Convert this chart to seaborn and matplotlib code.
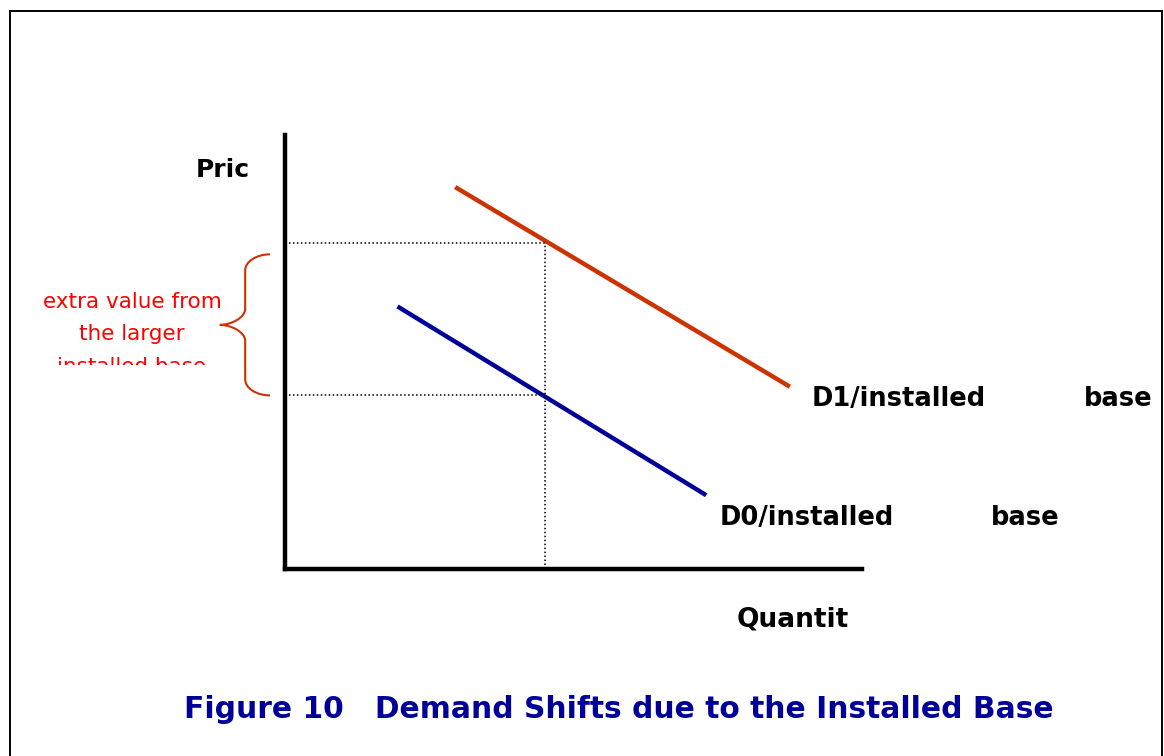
import matplotlib
matplotlib.use("Agg")
import matplotlib.pyplot as plt
import pandas as pd
import seaborn as sns
from matplotlib.patches import PathPatch, Rectangle
from matplotlib.path import Path
from matplotlib.transforms import Bbox, TransformedBbox

# demand curves (arbitrary units, quantity 0-10, price 0-10)
curve = ["D0", "D0", "D1", "D1"]
quantity = [1.95, 7.3, 2.95, 8.75]
price = [6.05, 1.7, 8.8, 4.2]

# equilibrium guides
q_star = 4.5
p1 = 7.5
p0 = 4.0

curve_labels = {"D1": "D1/installed", "D0": "D0/installed"}
tail_label = "base"
brace_lines = ["extra value from", "the larger", "installed base"]
title = "Figure 10   Demand Shifts due to the Installed Base"

RED = "#cc3300"
NAVY = "#000099"

sns.set_style("white")
plt.rcParams["font.family"] = ["DejaVu Sans"]
plt.rcParams["text.color"] = "black"

df = pd.DataFrame({"curve": curve, "quantity": quantity, "price": price})

fig = plt.figure(figsize=(11.64, 7.56), dpi=100)
ax = fig.add_axes([285 / 1164, 1 - 569 / 756, (862 - 285) / 1164, (569 - 135) / 756])

sns.lineplot(data=df, x="quantity", y="price", hue="curve",
             palette={"D0": NAVY, "D1": RED}, linewidth=3.2,
             estimator=None, sort=False, legend=False, ax=ax)
for line in ax.get_lines():
    line.set_solid_capstyle("butt")

ax.set_xlim(0, 10)
ax.set_ylim(0, 10)
ax.set_xticks([])
ax.set_yticks([])
ax.set_xlabel("")
ax.set_ylabel("")
for side in ["top", "right"]:
    ax.spines[side].set_visible(False)
for side in ["left", "bottom"]:
    ax.spines[side].set_linewidth(3.2)
    ax.spines[side].set_color("black")
    ax.spines[side].set_capstyle("projecting")

# dotted guides
dot = dict(color="black", linewidth=1.1, linestyle=(0, (1, 1.6)))
ax.plot([0, q_star], [p1, p1], **dot)
ax.plot([0, q_star], [p0, p0], **dot)
ax.plot([q_star, q_star], [0, p1], **dot)

# curve end labels
ends = df.groupby("curve").last()
offsets = {"D1": (22, -12), "D0": (13, -23)}
tail_x = {"D1": 294, "D0": 285}
for name, row in ends.iterrows():
    dx, dy = offsets[name]
    ax.annotate(curve_labels[name], xy=(row["quantity"], row["price"]),
                xytext=(dx, dy), textcoords="offset pixels",
                ha="left", va="center", fontsize=18.5, fontweight="bold")
    ax.annotate(tail_label, xy=(row["quantity"], row["price"]),
                xytext=(tail_x[name], dy), textcoords="offset pixels",
                ha="left", va="center", fontsize=18.5, fontweight="bold")

# curly brace between the two prices
top = p1 - 0.25
bottom = p0
mid = (top + bottom) / 2
xe, xa, xt = -0.26, -0.69, -1.13
r = 0.37
k = 0.45
verts = [
    (xe, top),
    (xa + (xe - xa) * k, top), (xa, top - r * k), (xa, top - r),
    (xa, mid + r),
    (xa, mid + r * k), (xt + (xa - xt) * k, mid), (xt, mid),
    (xt + (xa - xt) * k, mid), (xa, mid - r * k), (xa, mid - r),
    (xa, bottom + r),
    (xa, bottom + r * k), (xa + (xe - xa) * k, bottom), (xe, bottom),
]
codes = [Path.MOVETO,
         Path.CURVE4, Path.CURVE4, Path.CURVE4,
         Path.LINETO,
         Path.CURVE4, Path.CURVE4, Path.CURVE4,
         Path.CURVE4, Path.CURVE4, Path.CURVE4,
         Path.LINETO,
         Path.CURVE4, Path.CURVE4, Path.CURVE4]
ax.add_patch(PathPatch(Path(verts, codes), fill=False, edgecolor=RED,
                       linewidth=1.5, clip_on=False))

# red annotation, cut off at the bottom like the source
clip_box = TransformedBbox(Bbox([[0, 1 - 365 / 756], [0.3, 1]]), fig.transFigure)
for i, text in enumerate(brace_lines):
    t = fig.text(132 / 1164, 1 - (308 + 32.5 * i) / 756, text, ha="center",
                 va="baseline", fontsize=15.5, color="#ff0000")
    t.set_clip_box(clip_box)
    t.set_clip_on(True)

# axis names
fig.text(223 / 1164, 1 - 170 / 756, "Pric", ha="center", va="center",
         fontsize=18, fontweight="bold")
fig.text(793 / 1164, 1 - 619 / 756, "Quantit", ha="center", va="center",
         fontsize=19, fontweight="bold")

fig.text(619 / 1164, 1 - 710 / 756, title, ha="center", va="center",
         fontsize=21.4, fontweight="bold", color=NAVY)

# outer frame
fig.add_artist(Rectangle((10 / 1164, -0.1), (1162 - 10) / 1164, 0.1 + (756 - 11) / 756,
                         transform=fig.transFigure, fill=False,
                         edgecolor="black", linewidth=1.4))

fig.savefig("out.png", dpi=100)
plt.close(fig)
